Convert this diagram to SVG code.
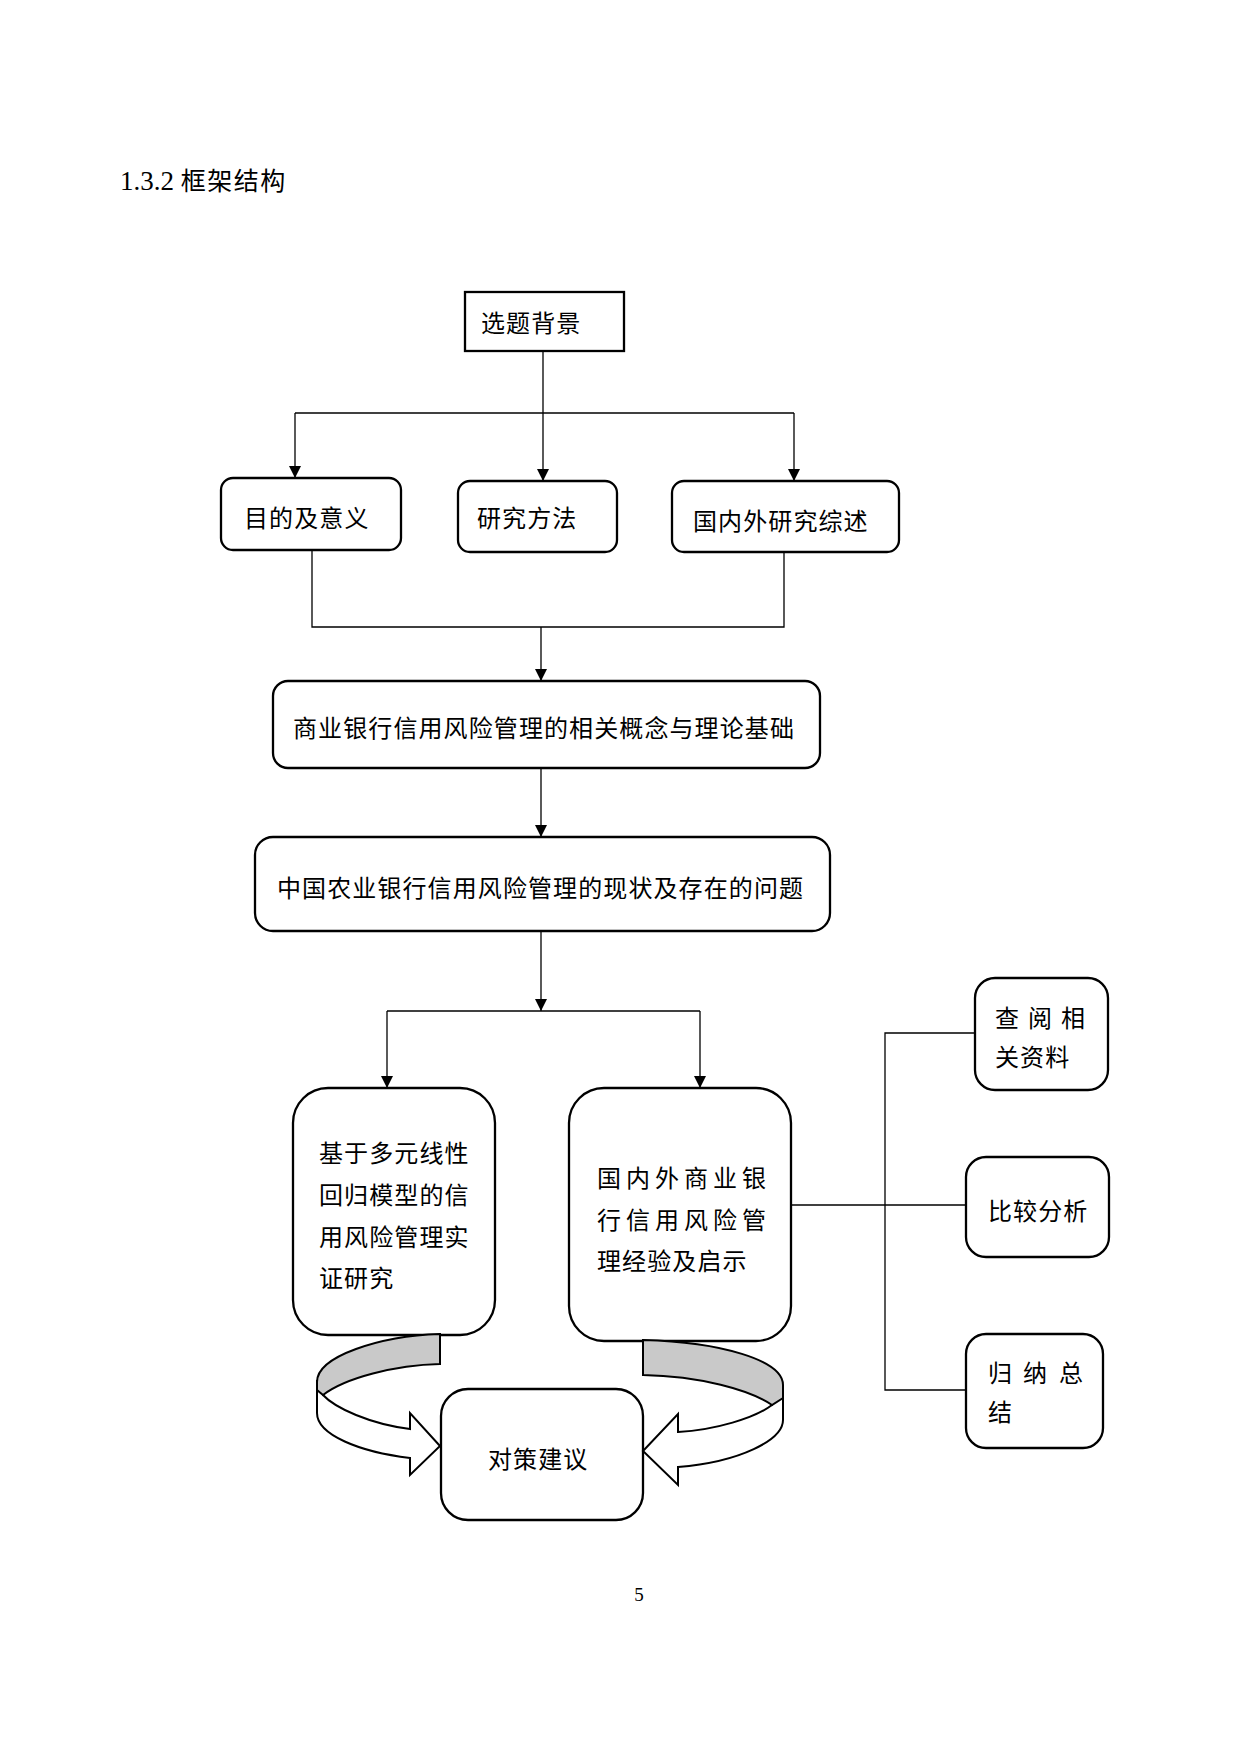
<svg xmlns="http://www.w3.org/2000/svg" width="1240" height="1754" viewBox="0 0 1240 1754">
<style>
.box{fill:#fff;stroke:#000;stroke-width:2.3}
.t{font-family:"Noto Sans CJK SC","Noto Sans",sans-serif;font-size:24px;fill:#000;letter-spacing:1.1px}
.t0{letter-spacing:0}
.ts{letter-spacing:5px}
.ln{fill:none;stroke:#000;stroke-width:1.3}
.arr{fill:#fff;stroke:#000;stroke-width:2;stroke-linejoin:miter}
.band{fill:#c9c9c9;stroke:#000;stroke-width:2}
</style>
<defs>
<marker id="ah" markerUnits="userSpaceOnUse" markerWidth="12" markerHeight="12" refX="12" refY="6" orient="auto" viewBox="0 0 12 12">
<path d="M0,0 L12,6 L0,12 Z" fill="#000"/>
</marker>
</defs>
<rect width="1240" height="1754" fill="#fff"/>

<text x="120" y="190" font-family="Liberation Serif, serif" font-size="27" fill="#000">1.3.2 <tspan font-family="Noto Sans CJK SC, sans-serif" font-size="25" style="letter-spacing:1.5px">框架结构</tspan></text>

<g id="connectors">
<path class="ln" d="M543,351 V481" marker-end="url(#ah)"/>
<path class="ln" d="M295,413 H794"/>
<path class="ln" d="M295,413 V478" marker-end="url(#ah)"/>
<path class="ln" d="M794,413 V481" marker-end="url(#ah)"/>
<path class="ln" d="M312,550 V627 H784 V552"/>
<path class="ln" d="M541,627 V681" marker-end="url(#ah)"/>
<path class="ln" d="M541,768 V837" marker-end="url(#ah)"/>
<path class="ln" d="M541,931 V1011" marker-end="url(#ah)"/>
<path class="ln" d="M387,1011 H700"/>
<path class="ln" d="M387,1011 V1088" marker-end="url(#ah)"/>
<path class="ln" d="M700,1011 V1088" marker-end="url(#ah)"/>
<path class="ln" d="M791,1205 H966"/>
<path class="ln" d="M975,1033 H885 V1390 H966"/>
</g>

<g id="n1">
<rect class="box" x="465" y="292" width="159" height="59"/>
<text class="t" x="481" y="332">选题背景</text>
</g>
<g id="n2">
<rect class="box" x="221" y="478" width="180" height="72" rx="12"/>
<text class="t" x="244" y="527">目的及意义</text>
</g>
<g id="n3">
<rect class="box" x="458" y="481" width="159" height="71" rx="12"/>
<text class="t" x="477" y="527">研究方法</text>
</g>
<g id="n4">
<rect class="box" x="672" y="481" width="227" height="71" rx="12"/>
<text class="t" x="693" y="530">国内外研究综述</text>
</g>
<g id="n5">
<rect class="box" x="273" y="681" width="547" height="87" rx="15"/>
<text class="t" x="293" y="737">商业银行信用风险管理的相关概念与理论基础</text>
</g>
<g id="n6">
<rect class="box" x="255" y="837" width="575" height="94" rx="18"/>
<text class="t" x="277" y="897">中国农业银行信用风险管理的现状及存在的问题</text>
</g>
<g id="n7">
<rect class="box" x="293" y="1088" width="202" height="247" rx="35"/>
<text class="t" x="319" y="1162">基于多元线性</text>
<text class="t" x="319" y="1204">回归模型的信</text>
<text class="t" x="319" y="1246">用风险管理实</text>
<text class="t" x="319" y="1287">证研究</text>
</g>
<g id="n8">
<rect class="box" x="569" y="1088" width="222" height="253" rx="35"/>
<text class="t ts" x="597" y="1187">国内外商业银</text>
<text class="t ts" x="597" y="1229">行信用风险管</text>
<text class="t" x="597" y="1270">理经验及启示</text>
</g>
<g id="n9">
<rect class="box" x="975" y="978" width="133" height="112" rx="20"/>
<text class="t t0" x="995 1019 1028 1052 1061" y="1027">查 阅 相</text>
<text class="t" x="995" y="1066">关资料</text>
</g>
<g id="n10">
<rect class="box" x="966" y="1157" width="143" height="100" rx="20"/>
<text class="t" x="988" y="1220">比较分析</text>
</g>
<g id="n11">
<rect class="box" x="966" y="1334" width="137" height="114" rx="20"/>
<text class="t t0" x="988 1011 1023 1047 1059" y="1382">归 纳 总</text>
<text class="t" x="988" y="1421">结</text>
</g>
<g id="n12">
<rect class="box" x="441" y="1389" width="202" height="131" rx="27"/>
<text class="t" x="488" y="1468">对策建议</text>
</g>

<g id="curved-arrows">
<path class="arr" d="M317,1380 L317,1413 C317,1435 360,1452 410,1458 L410,1475 L440,1446 L410,1413 L410,1429 C370,1424 335,1408 323,1395 Z"/>
<path class="band" d="M440,1334 C380,1336 317,1356 317,1382 L317,1390 L323,1395 C345,1378 395,1365 440,1364 Z"/>
<path class="arr" d="M783,1385 L783,1420 C783,1440 740,1462 678,1467 L678,1485 L643,1451 L678,1414 L678,1432 C715,1430 755,1418 772,1405 Z"/>
<path class="band" d="M643,1340 C720,1342 783,1360 783,1385 L783,1398 L772,1405 C750,1390 700,1376 643,1375 Z"/>
</g>

<text x="639" y="1601" font-family="Liberation Serif, serif" font-size="19" text-anchor="middle" fill="#000">5</text>
</svg>
